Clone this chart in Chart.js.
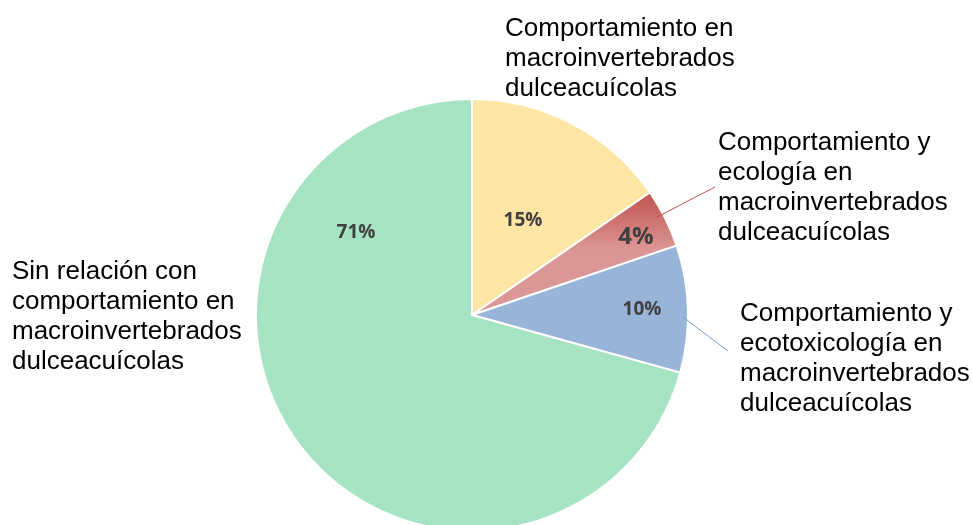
<!DOCTYPE html>
<html>
<head>
<meta charset="utf-8">
<script src="https://cdn.jsdelivr.net/npm/chart.js@4"></script>
<style>
    html, body { margin: 0; padding: 0; background: #fff; overflow: hidden; }
    #wrap { width: 973px; height: 525px; overflow: hidden; }
</style>
</head>
<body>
<div id="wrap"><canvas id="pieChart" width="973" height="630"></canvas></div>
<script>
// Slice data, clockwise from the top
const categories = [
    ["Comportamiento en", "macroinvertebrados", "dulceacuícolas"],
    ["Comportamiento y", "ecología en", "macroinvertebrados", "dulceacuícolas"],
    ["Comportamiento y", "ecotoxicología en", "macroinvertebrados", "dulceacuícolas"],
    ["Sin relación con", "comportamiento en", "macroinvertebrados", "dulceacuícolas"]
];
const shares = [15.4, 4.4, 9.5, 70.7];
const percentLabels = ["15%", "4%", "10%", "71%"];

// Layout of the texts (offsets from the pie centre, px)
const percentPos = [[51, -94], [164, -78], [170, -5], [-116, -82]];
const percentSize = [19, 24, 19, 19];
const namePos = [[33, -279], [246, -165], [268, 6], [-460, -36]];
const leaders = [null, [[185, -98], [243, -128]], [[211, 2], [256, 36]], null];
const leaderColors = [null, "#c0504d", "#7b9ccc", null];

const fills = ["#ffe6a5", null, "#98b5d9", "#a6e3c3"];

function redGradient(context) {
    const chart = context.chart;
    const area = chart.chartArea;
    if (!area) return "#c9605d";
    const cy = (area.top + area.bottom) / 2;
    const r = Math.min(area.right - area.left, area.bottom - area.top) / 2;
    const g = chart.ctx.createLinearGradient(0, cy - 0.57 * r, 0, cy - 0.3 * r);
    g.addColorStop(0, "#c0504d");
    g.addColorStop(1, "#db9795");
    return g;
}

const textPlugin = {
    id: "sliceTexts",
    afterDraw(chart) {
        const ctx = chart.ctx;
        const arc = chart.getDatasetMeta(0).data[0];
        const cx = arc.x, cy = arc.y;
        ctx.save();

        leaders.forEach((ln, i) => {
            if (!ln) return;
            ctx.beginPath();
            ctx.strokeStyle = leaderColors[i];
            ctx.lineWidth = 1;
            ctx.moveTo(cx + ln[0][0], cy + ln[0][1]);
            ctx.lineTo(cx + ln[1][0], cy + ln[1][1]);
            ctx.stroke();
        });

        ctx.fillStyle = "#404040";
        ctx.textAlign = "center";
        ctx.textBaseline = "middle";
        percentLabels.forEach((t, i) => {
            ctx.font = "bold " + percentSize[i] + "px 'Open Sans'";
            ctx.fillText(t, cx + percentPos[i][0], cy + percentPos[i][1]);
        });

        ctx.fillStyle = "#000";
        ctx.textAlign = "left";
        ctx.textBaseline = "alphabetic";
        ctx.font = "26px 'Liberation Sans', Arial";
        categories.forEach((lines, i) => {
            lines.forEach((line, j) => {
                ctx.fillText(line, cx + namePos[i][0], cy + namePos[i][1] + j * 30);
            });
        });
        ctx.restore();
    }
};

new Chart(document.getElementById("pieChart"), {
    type: "pie",
    data: {
        labels: categories.map(c => c.join(" ")),
        datasets: [{
            data: shares,
            backgroundColor: (c) => c.dataIndex === 1 ? redGradient(c) : fills[c.dataIndex],
            borderColor: "#ffffff",
            borderWidth: 2
        }]
    },
    options: {
        responsive: false,
        animation: false,
        layout: { padding: { top: 98, bottom: 98, left: 0, right: 29 } },
        plugins: {
            legend: { display: false },
            tooltip: { enabled: false }
        }
    },
    plugins: [textPlugin]
});
</script>
</body>
</html>
